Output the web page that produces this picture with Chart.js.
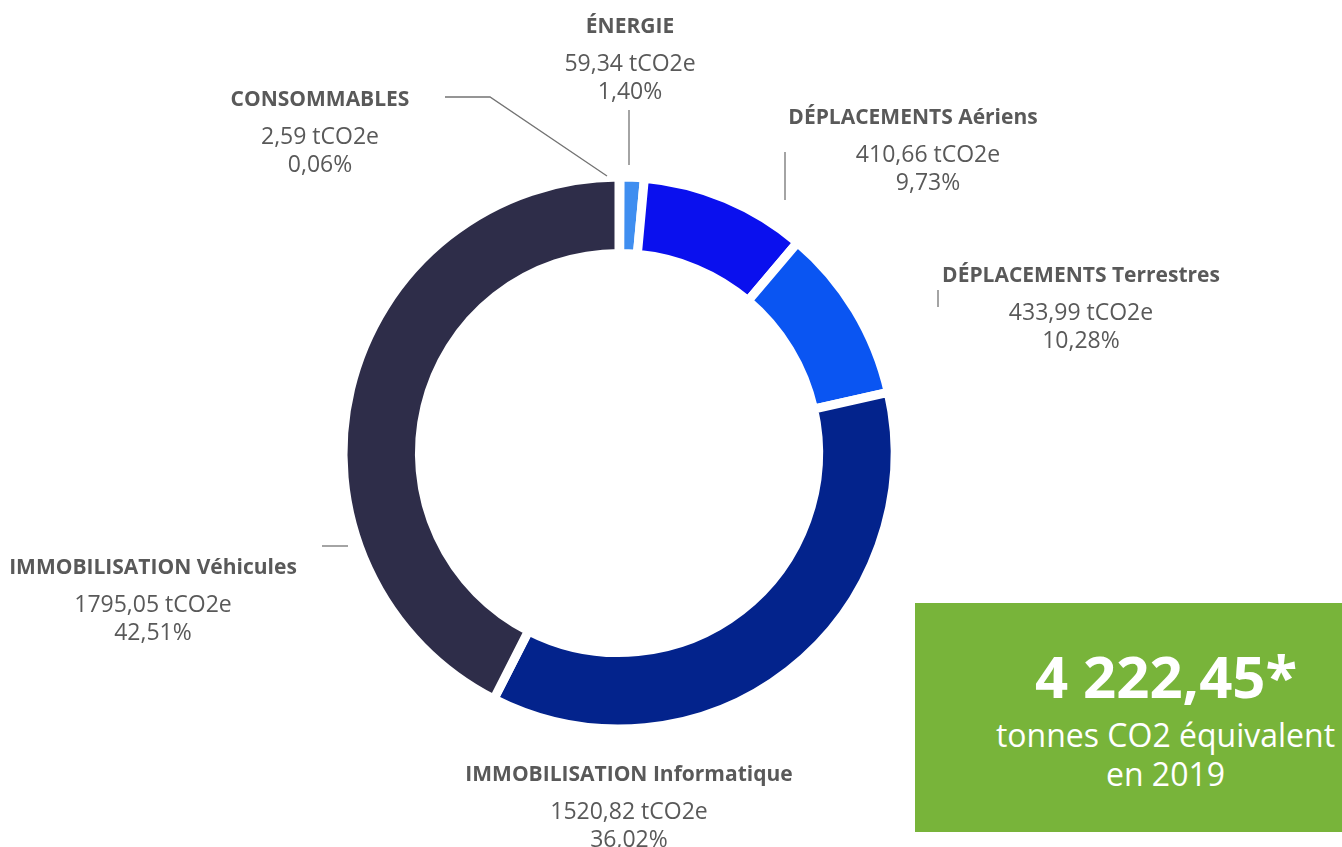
<!DOCTYPE html>
<html>
<head>
<meta charset="utf-8">
<script src="https://cdn.jsdelivr.net/npm/chart.js@4.4.0/dist/chart.umd.min.js"></script>
<style>
  html, body { margin: 0; padding: 0; background: #fff; }
  #wrap { position: relative; width: 1342px; height: 847px; overflow: hidden; }
  #total {
    position: absolute; left: 915px; top: 603px; width: 427px; height: 229px;
    background: #78b43a; color: #fff; font-family: "Open Sans", sans-serif; text-align: center;
  }
  #total .big { position: absolute; left: 0; right: 0; top: 44px; font-size: 58px; font-weight: 700; line-height: 1; padding-left: 75px; }
  #total .small { position: absolute; left: 0; right: 0; top: 112px; font-size: 32px; line-height: 39px; padding-left: 74px; }
</style>
</head>
<body>
<div id="wrap">
  <canvas id="co2" width="1342" height="847"></canvas>
  <div id="total">
    <div class="big">4 222,45*</div>
    <div class="small">tonnes CO2 équivalent<br>en 2019</div>
  </div>
</div>
<script>
// postes d'émission, dans l'ordre du cercle (départ à midi)
var categories = [
  ["CONSOMMABLES", ""],
  ["ÉNERGIE", ""],
  ["DÉPLACEMENTS", "Aériens"],
  ["DÉPLACEMENTS", "Terrestres"],
  ["IMMOBILISATION", "Informatique"],
  ["IMMOBILISATION", "Véhicules"]
];
var emissions = [2.59, 59.34, 410.66, 433.99, 1520.82, 1795.05]; // tCO2e
var shares = [0.06, 1.40, 9.73, 10.28, 36.02, 42.51];            // %
var colors = ["#a5a5a5", "#3f8ef0", "#0a10ee", "#0a55f2", "#03238c", "#2e2d49"];

function fr(n) { return n.toFixed(2).replace(".", ","); }

// position des étiquettes par rapport au centre du donut
// x : centre du titre, vx : décalage des valeurs, y : 1re ligne
var labelPos = [
  { x: -299, vx: 0, y: -353 },
  { x: 11, vx: 0, y: -426 },
  { x: 294, vx: 15, y: -335 },
  { x: 462, vx: 0, y: -177 },
  { x: 10, vx: 0, y: 322 },
  { x: -466, vx: 0, y: 115 }
];
// traits de rappel, relatifs au centre
var leaders = [
  [[-174, -356], [-129, -356], [-12, -277]],
  [[10, -343], [10, -288]],
  [[166, -301], [166, -253]],
  [[319, -163], [319, -146]],
  [[-297, 93], [-271, 93]]
];

var labelsPlugin = {
  id: "labelsPlugin",
  afterDraw: function (chart) {
    var ctx = chart.ctx;
    var a = chart.chartArea;
    var cx = (a.left + a.right) / 2, cy = (a.top + a.bottom) / 2;
    ctx.save();
    ctx.strokeStyle = "#737373";
    ctx.lineWidth = 1.3;
    leaders.forEach(function (pts) {
      ctx.beginPath();
      pts.forEach(function (p, i) {
        if (i === 0) ctx.moveTo(cx + p[0], cy + p[1]); else ctx.lineTo(cx + p[0], cy + p[1]);
      });
      ctx.stroke();
    });
    ctx.textAlign = "center";
    ctx.textBaseline = "middle";
    ctx.fillStyle = "#595959";
    categories.forEach(function (c, i) {
      var p = labelPos[i];
      var x = cx + p.x, y = cy + p.y;
      ctx.font = "bold 21px 'Open Sans'";
      ctx.fillText(c[0] + (c[1] ? " " + c[1] : ""), x, y);
      ctx.font = "23px 'Open Sans'";
      ctx.fillText(fr(emissions[i]) + " tCO2e", x + p.vx, y + 37);
      ctx.fillText(fr(shares[i]) + "%", x + p.vx, y + 65);
    });
    ctx.restore();
  }
};

new Chart(document.getElementById("co2"), {
  type: "doughnut",
  data: {
    labels: categories.map(function (c) { return (c[0] + " " + c[1]).trim(); }),
    datasets: [{
      data: emissions,
      backgroundColor: colors,
      borderColor: "#ffffff",
      borderWidth: 9,
      hoverOffset: 0
    }]
  },
  options: {
    responsive: false,
    animation: false,
    radius: 276,
    cutout: "72.3%",
    layout: { padding: { left: 347, right: 451, top: 181, bottom: 122 } },
    plugins: { legend: { display: false }, tooltip: { enabled: false } }
  },
  plugins: [labelsPlugin]
});
</script>
</body>
</html>
